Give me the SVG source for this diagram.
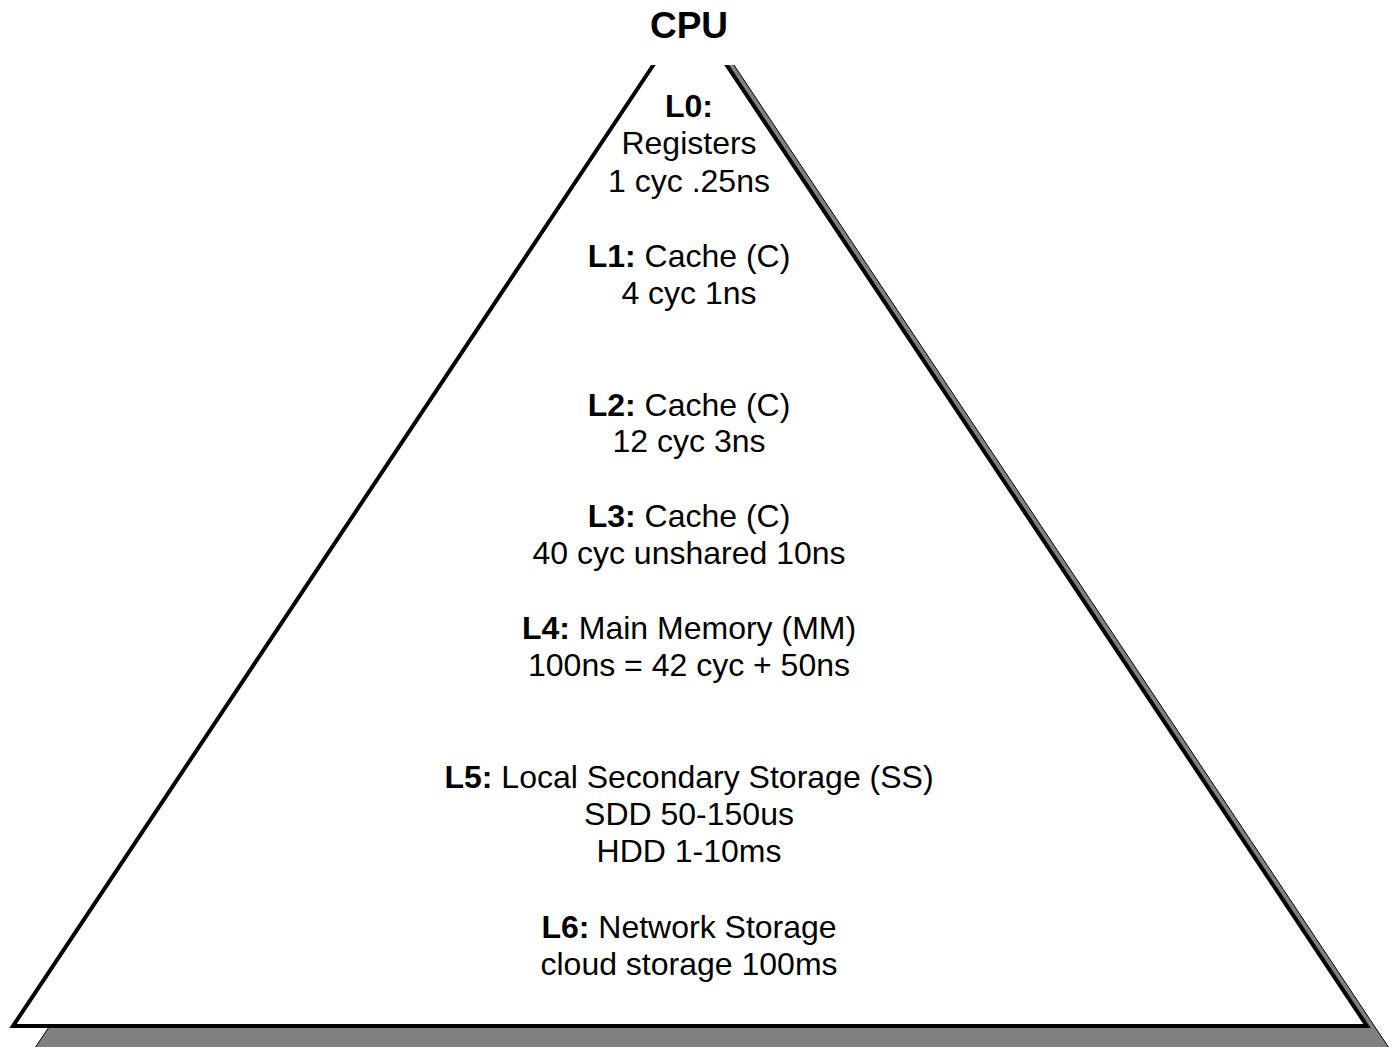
<svg xmlns="http://www.w3.org/2000/svg" width="1398" height="1047" viewBox="0 0 1398 1047">
<style>
.t{font-family:"Liberation Sans",Arial,sans-serif;font-size:32px;fill:#000;text-anchor:middle}
.b{font-weight:bold}
.title{font-family:"Liberation Sans",Arial,sans-serif;font-size:37px;font-weight:bold;fill:#000;text-anchor:middle}
</style>
<rect width="1398" height="1047" fill="#fff"/>
<g id="pyramid">
<polygon points="712,32 1389,1048 35,1048" fill="#808080" stroke="#000" stroke-width="1"/>
<polygon points="690,10 1367,1026 13,1026" fill="#fff" stroke="#000" stroke-width="4" stroke-linejoin="miter"/>
<rect x="0" y="0" width="1398" height="65" fill="#fff"/>
</g>
<g id="cpu"><text class="title" x="689" y="38">CPU</text></g>
<g id="L0"><text class="t" x="689" y="117"><tspan class="b">L0:</tspan></text>
<text class="t" x="689" y="154">Registers</text>
<text class="t" x="689" y="192">1 cyc .25ns</text></g>
<g id="L1"><text class="t" x="689" y="267"><tspan class="b">L1:</tspan> Cache (C)</text>
<text class="t" x="689" y="304">4 cyc 1ns</text></g>
<g id="L2"><text class="t" x="689" y="416"><tspan class="b">L2:</tspan> Cache (C)</text>
<text class="t" x="689" y="452">12 cyc 3ns</text></g>
<g id="L3"><text class="t" x="689" y="527"><tspan class="b">L3:</tspan> Cache (C)</text>
<text class="t" x="689" y="564">40 cyc unshared 10ns</text></g>
<g id="L4"><text class="t" x="689" y="639"><tspan class="b">L4:</tspan> Main Memory (MM)</text>
<text class="t" x="689" y="676">100ns = 42 cyc + 50ns</text></g>
<g id="L5"><text class="t" x="689" y="788"><tspan class="b">L5:</tspan> Local Secondary Storage (SS)</text>
<text class="t" x="689" y="825">SDD 50-150us</text>
<text class="t" x="689" y="862">HDD 1-10ms</text></g>
<g id="L6"><text class="t" x="689" y="938"><tspan class="b">L6:</tspan> Network Storage</text>
<text class="t" x="689" y="975">cloud storage 100ms</text></g>
<g id="connectors"></g>
</svg>
